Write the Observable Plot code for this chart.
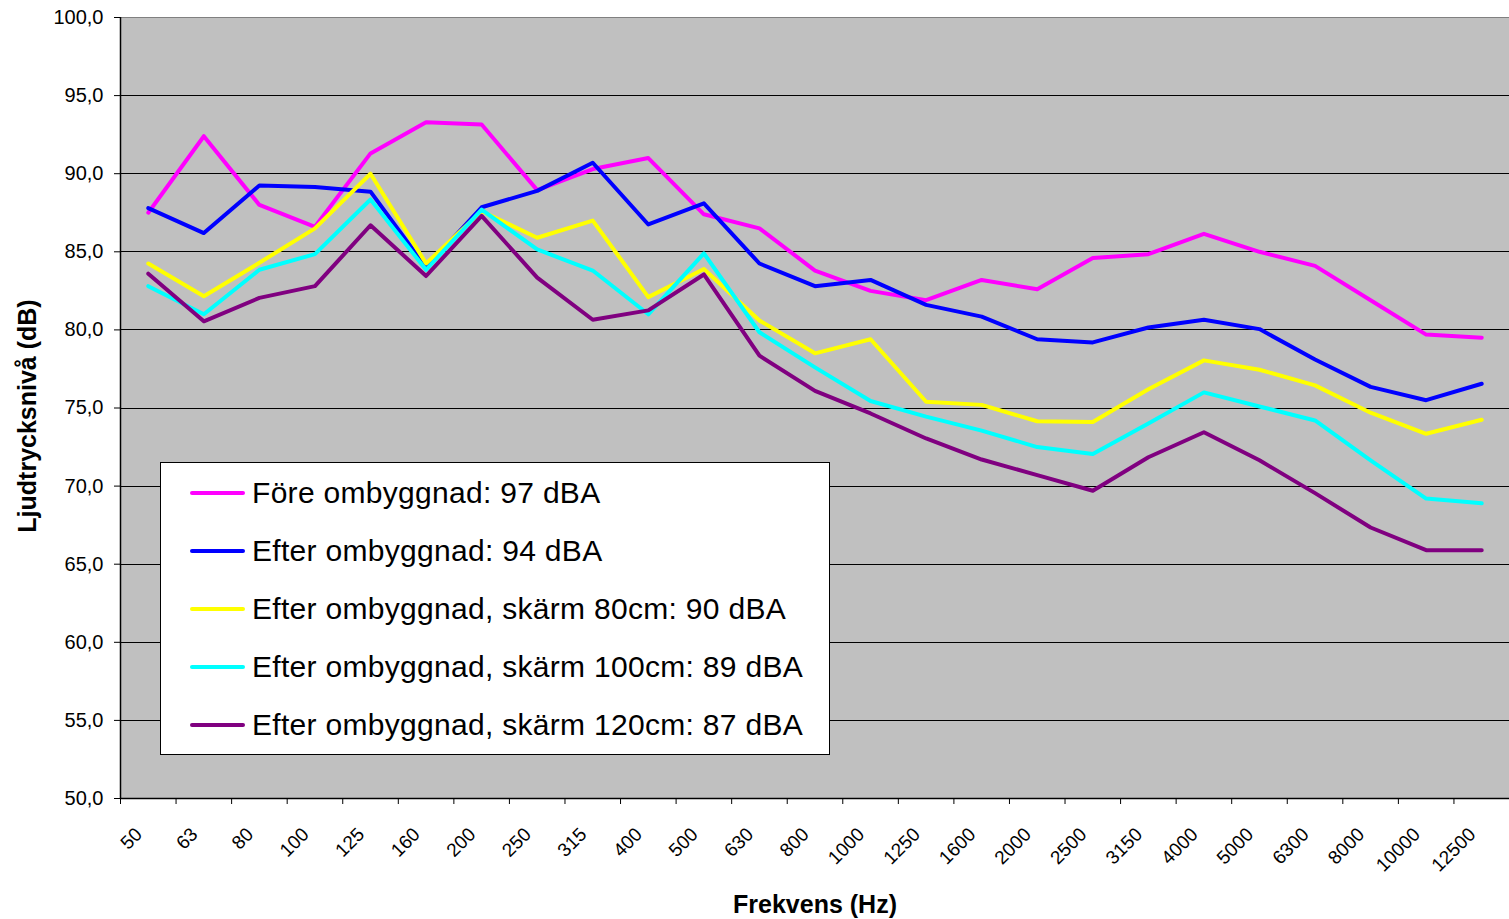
<!DOCTYPE html>
<html>
<head>
<meta charset="utf-8">
<script src="https://cdn.jsdelivr.net/npm/d3@7"></script>
<script src="https://cdn.jsdelivr.net/npm/@observablehq/plot@0.6"></script>
<style>
  body { margin: 0; background: #fff; font-family: "Liberation Sans", Arial, sans-serif; }
  #wrap { position: relative; width: 1509px; height: 919px; }
  #legend { position: absolute; left: 160px; top: 462px; width: 670px; height: 293px;
            background: #fff; border: 1px solid #000; box-sizing: border-box; }
  .row { position: absolute; left: 0; height: 40px; display: flex; align-items: center; }
  .sw { display: inline-block; width: 55px; height: 4px; margin-left: 29px; margin-right: 7px; border-radius: 2px; }
  .lt { font-size: 30px; color: #000; white-space: nowrap; letter-spacing: 0.3px; }
</style>
</head>
<body>
<div id="wrap"></div>
<script>
const freqs = ["50","63","80","100","125","160","200","250","315","400","500","630","800","1000","1250","1600","2000","2500","3150","4000","5000","6300","8000","10000","12500"];
const fore    = [87.5, 92.4, 88.0, 86.6, 91.3, 93.3, 93.15, 88.95, 90.3, 91.0, 87.4, 86.5, 83.8, 82.5, 81.9, 83.2, 82.6, 84.6, 84.85, 86.15, 85.0, 84.1, 81.9, 79.7, 79.5];
const efter   = [87.8, 86.2, 89.25, 89.15, 88.85, 84.0, 87.85, 88.9, 90.7, 86.75, 88.1, 84.25, 82.8, 83.2, 81.6, 80.85, 79.4, 79.2, 80.15, 80.65, 80.05, 78.1, 76.35, 75.5, 76.55];
const skarm80 = [84.25, 82.15, 84.3, 86.5, 90.0, 84.25, 87.6, 85.9, 87.0, 82.1, 83.9, 80.6, 78.5, 79.4, 75.4, 75.2, 74.15, 74.1, 76.2, 78.05, 77.45, 76.45, 74.7, 73.35, 74.25];
const skarm100= [82.8, 81.0, 83.85, 84.85, 88.35, 83.85, 87.7, 85.15, 83.8, 81.0, 84.9, 79.85, 77.6, 75.45, 74.45, 73.55, 72.5, 72.05, 74.0, 76.0, 75.1, 74.2, 71.65, 69.2, 68.9];
const skarm120= [83.6, 80.55, 82.05, 82.8, 86.7, 83.45, 87.3, 83.35, 80.65, 81.25, 83.55, 78.35, 76.1, 74.65, 73.05, 71.7, 70.7, 69.7, 71.85, 73.45, 71.65, 69.55, 67.35, 65.9, 65.9];

const seriesNames = [
  "Före ombyggnad: 97 dBA",
  "Efter ombyggnad: 94 dBA",
  "Efter ombyggnad, skärm 80cm: 90 dBA",
  "Efter ombyggnad, skärm 100cm: 89 dBA",
  "Efter ombyggnad, skärm 120cm: 87 dBA"
];
const seriesValues = [fore, efter, skarm80, skarm100, skarm120];
const seriesColors = ["#ff00ff", "#0000ff", "#ffff00", "#00ffff", "#800080"];
const yTicks = [50, 55, 60, 65, 70, 75, 80, 85, 90, 95, 100];

const data = seriesValues.flatMap((vals, k) =>
  vals.map((v, i) => ({ pos: i + 0.5, value: v, name: seriesNames[k] })));

const chart = Plot.plot({
  width: 1509,
  height: 919,
  marginLeft: 120,
  marginRight: 0,
  marginTop: 17,
  marginBottom: 121,
  style: { fontFamily: "Liberation Sans, Arial, sans-serif", fontSize: "20px", color: "#000", background: "#fff", overflow: "visible" },
  x: { domain: [0, freqs.length], axis: null },
  y: { domain: [50, 100], axis: null },
  color: { domain: seriesNames, range: seriesColors },
  marks: [
    Plot.frame({ fill: "#c0c0c0", stroke: null }),
    Plot.ruleY(yTicks.filter(d => d < 100), { stroke: "#000", strokeWidth: 1, shapeRendering: "crispEdges" }),
    Plot.ruleY([100], { stroke: "#808080", strokeWidth: 1, shapeRendering: "crispEdges" }),
    Plot.axisY({ ticks: yTicks, tickSize: 6, tickPadding: 11, fontSize: 20, label: null,
                 tickFormat: d => d.toFixed(1).replace(".", ",") }),
    Plot.axisX({ ticks: d3.range(0, freqs.length + 1), tickSize: 6, tickFormat: () => "", label: null }),
    Plot.ruleX([0], { stroke: "#000", strokeWidth: 1.5 }),
    Plot.ruleY([50], { stroke: "#000", strokeWidth: 1.5 }),
    Plot.line(data, { x: "pos", y: "value", z: "name", stroke: "name", strokeWidth: 4,
                      strokeLinejoin: "round", strokeLinecap: "round" }),
    Plot.text(freqs, { x: (d, i) => i + 0.5, frameAnchor: "bottom", rotate: -45, textAnchor: "end",
                       lineAnchor: "bottom", dx: -5, dy: 37, fontSize: 19 }),
    Plot.text(["Frekvens (Hz)"], { frameAnchor: "bottom", textAnchor: "middle", dy: 114, lineAnchor: "bottom",
                                   fontWeight: "bold", fontSize: 25 }),
    Plot.text(["Ljudtrycksnivå (dB)"], { frameAnchor: "left", textAnchor: "middle", rotate: -90, dx: -85, dy: 8,
                                         lineAnchor: "bottom", fontWeight: "bold", fontSize: 25 })
  ]
});

const wrap = document.getElementById("wrap");
wrap.appendChild(chart);

const legend = document.createElement("div");
legend.id = "legend";
seriesNames.forEach((name, k) => {
  const row = document.createElement("div");
  row.className = "row";
  row.style.top = (30 + k * 58 - 20) + "px";
  const sw = document.createElement("span");
  sw.className = "sw";
  sw.style.background = seriesColors[k];
  const t = document.createElement("span");
  t.className = "lt";
  t.textContent = name;
  row.appendChild(sw);
  row.appendChild(t);
  legend.appendChild(row);
});
wrap.appendChild(legend);
</script>
</body>
</html>
